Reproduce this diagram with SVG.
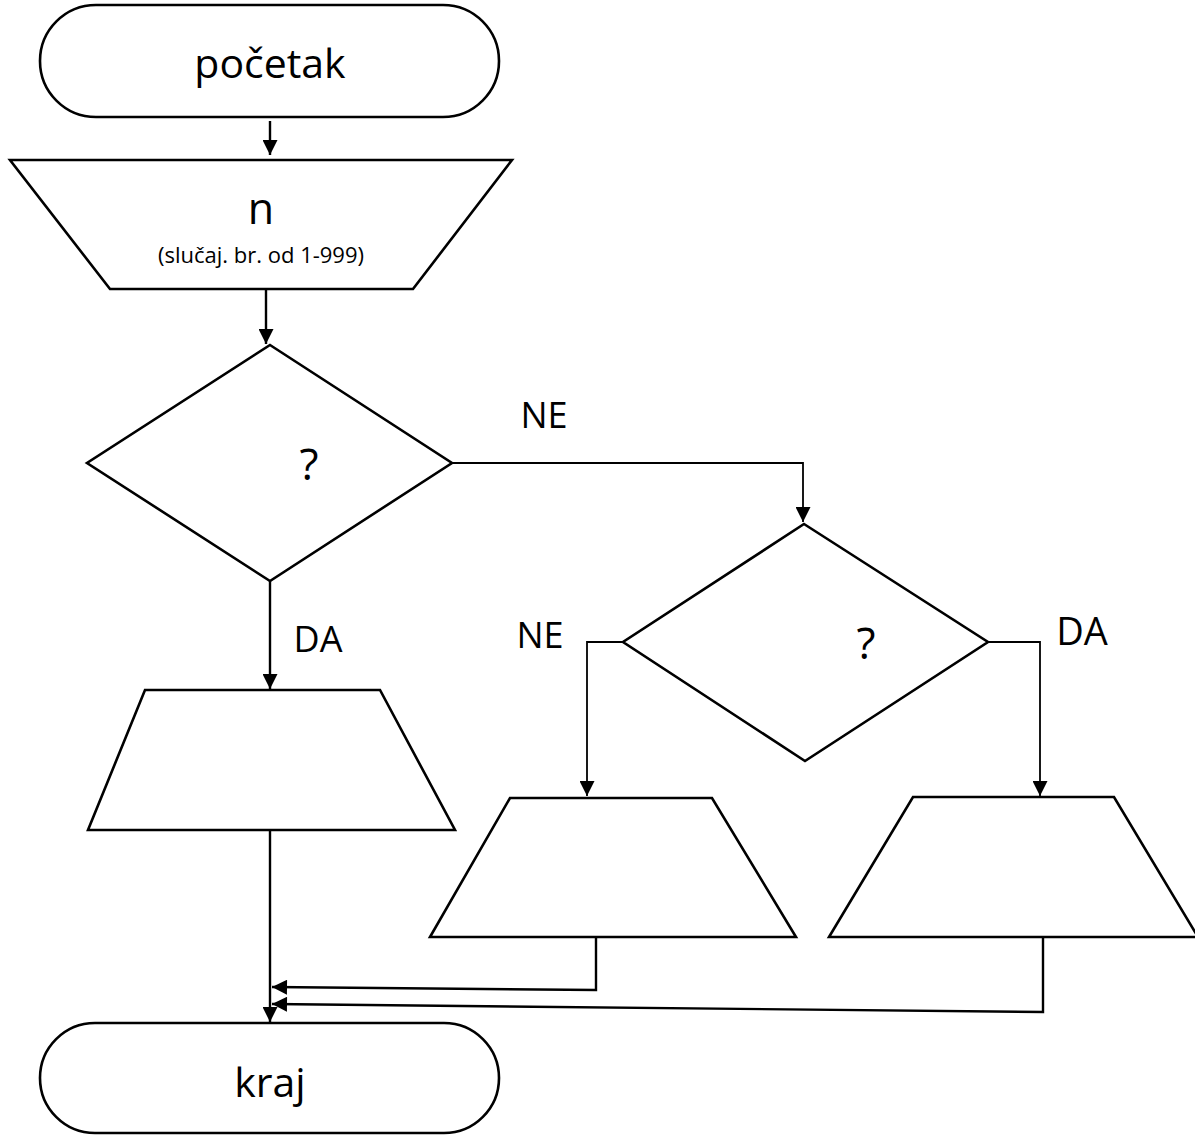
<svg xmlns="http://www.w3.org/2000/svg" width="1195" height="1135" viewBox="0 0 1195 1135">
<style>
.s{fill:#fff;stroke:#000;stroke-width:2.6}
.t{font-family:"Open Sans","Noto Sans",sans-serif;fill:#000;text-anchor:middle}
.c{fill:none;stroke:#000;stroke-width:2.4}
.c1{fill:none;stroke:#000;stroke-width:1.8}
</style>
<defs>
<marker id="ah" viewBox="0 0 10 10" refX="10" refY="5" markerWidth="17" markerHeight="15" markerUnits="userSpaceOnUse" orient="auto">
<path d="M0,0 L10,5 L0,10 Z" fill="#000"/>
</marker>
</defs>
<rect width="1195" height="1135" fill="#fff"/>
<g id="start">
<rect class="s" x="40" y="5" width="459" height="112" rx="56" ry="56"/>
<text class="t" x="270" y="78" font-size="41">početak</text>
</g>
<g id="input">
<polygon class="s" points="10,160 512,160 413,289 110,289"/>
<text class="t" x="261" y="224" font-size="43">n</text>
<text class="t" x="261" y="263" font-size="22">(slučaj. br. od 1-999)</text>
</g>
<g id="dec1">
<polygon class="s" points="270,345 452,463 270,581 87,463"/>
<text class="t" x="309" y="480" font-size="44">?</text>
</g>
<g id="dec2">
<polygon class="s" points="804,524 988,642 805,761 623,642"/>
<text class="t" x="866" y="659" font-size="44">?</text>
</g>
<g id="out1">
<polygon class="s" points="145,690 380,690 455,830 88,830"/>
</g>
<g id="out2">
<polygon class="s" points="510,798 712,798 796,937 430,937"/>
</g>
<g id="out3">
<polygon class="s" points="913,797 1114,797 1198,937 829,937"/>
</g>
<g id="end">
<rect class="s" x="40" y="1023" width="459" height="110" rx="55" ry="55"/>
<text class="t" x="270" y="1097" font-size="41">kraj</text>
</g>
<g id="connectors">
<path class="c" d="M270,121 L270,155" marker-end="url(#ah)"/>
<path class="c" d="M266,289 L266,344" marker-end="url(#ah)"/>
<path class="c" d="M270,581 L270,689" marker-end="url(#ah)"/>
<path class="c1" d="M452,463 L803,463 L803,522" marker-end="url(#ah)"/>
<path class="c1" d="M623,642 L587,642 L587,796" marker-end="url(#ah)"/>
<path class="c1" d="M988,642 L1040,642 L1040,796" marker-end="url(#ah)"/>
<path class="c" d="M270,830 L270,1022" marker-end="url(#ah)"/>
<path class="c" d="M596,937 L596,990 L272,987" marker-end="url(#ah)"/>
<path class="c" d="M1043,937 L1043,1012 L272,1004" marker-end="url(#ah)"/>
<text class="t" x="544" y="428" font-size="36">NE</text>
<text class="t" x="318" y="652" font-size="36">DA</text>
<text class="t" x="540" y="648" font-size="36">NE</text>
<text class="t" x="1082" y="645" font-size="38">DA</text>
</g>
</svg>
